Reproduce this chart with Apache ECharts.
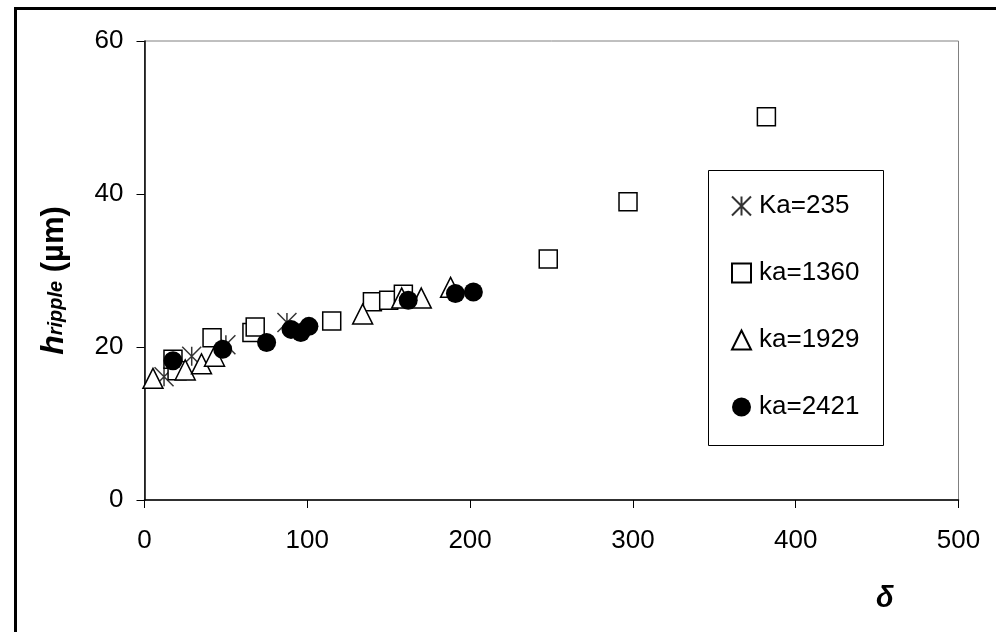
<!DOCTYPE html>
<html>
<head>
<meta charset="utf-8">
<title>h ripple vs delta</title>
<script src="https://cdn.jsdelivr.net/npm/echarts@6/dist/echarts.min.js"></script>
<style>
    html, body { margin: 0; padding: 0; background: #fff; }
    #chart { width: 996px; height: 632px; }
</style>
</head>
<body>
<div id="chart"></div>
<script>
    // series names, as in the legend
    const seriesNames = ['Ka=235', 'ka=1360', 'ka=1929', 'ka=2421'];

    // [delta, h_ripple (um)]
    const ka235 = [[12, 16.1], [29, 18.8], [50, 20.3], [87.5, 23.2]];
    const ka1360 = [[17.5, 18.4], [20, 16.9], [41.5, 21.2], [66, 21.9], [68, 22.6], [115, 23.4],
        [140, 25.9], [150, 26.1], [159, 26.9], [248, 31.5], [297, 39.0], [382, 50.1]];
    const ka1929 = [[5.2, 15.9], [25, 17.0], [35, 17.8], [43, 18.8], [134, 24.3], [158, 26.4],
        [170, 26.4], [188, 27.8]];
    const ka2421 = [[17.5, 18.2], [48, 19.7], [75, 20.6], [90, 22.3], [96, 21.9], [101, 22.7],
        [162, 26.1], [191, 27.0], [202, 27.2]];

    const xTicks = [0, 100, 200, 300, 400, 500];
    const yTicks = [0, 20, 40, 60];

    const font = '"Liberation Sans", Arial, sans-serif';
    const myChart = echarts.init(document.getElementById('chart'), null, { renderer: 'canvas' });

    // asterisk marker: X with a vertical bar
    const star = 'path://M0,0L20,20M20,0L0,20M10,0L10,20';

    let option = {
        backgroundColor: '#fff',
        animation: false,
        textStyle: { fontFamily: font },
        grid: {
            left: 144.5, right: 37.5, top: 41, bottom: 132,
            show: true, borderColor: '#808080', borderWidth: 1
        },
        xAxis: {
            type: 'value',
            min: xTicks[0], max: xTicks[xTicks.length - 1], interval: 100,
            axisLine: { lineStyle: { color: '#000', width: 1.5 } },
            axisTick: { show: true, length: 8, lineStyle: { color: '#000' } },
            axisLabel: { fontSize: 26, color: '#000', margin: 28, fontFamily: font },
            splitLine: { show: false }
        },
        yAxis: {
            type: 'value',
            min: yTicks[0], max: yTicks[yTicks.length - 1], interval: 20,
            axisLine: { show: true, lineStyle: { color: '#000', width: 1.5 } },
            axisTick: { show: true, length: 8, lineStyle: { color: '#000' } },
            axisLabel: { fontSize: 26, color: '#000', margin: 21, fontFamily: font },
            splitLine: { show: false },
            name: '{h|h}{sub|ripple}{u| (µm)}',
            nameLocation: 'middle',
            nameRotate: 90,
            nameGap: 74,
            nameTextStyle: {
                padding: [0, 20, 0, 0],
                rich: {
                    h: { fontSize: 32, fontWeight: 'bold', fontStyle: 'italic', color: '#000', fontFamily: font },
                    sub: { fontSize: 20, fontWeight: 'bold', fontStyle: 'italic', color: '#000', fontFamily: font, padding: [0, 0, -3, 0] },
                    u: { fontSize: 31, fontWeight: 'bold', color: '#000', fontFamily: font }
                }
            }
        },
        legend: {
            orient: 'vertical',
            left: 731, top: 193,
            padding: 0,
            itemWidth: 19, itemHeight: 19,
            itemGap: 41,
            selectedMode: false,
            textStyle: { fontSize: 26, color: '#000', lineHeight: 26, padding: [0, 0, 0, 3], fontFamily: font },
            data: seriesNames
        },
        graphic: [
            // outer chart frame, runs off the right and bottom edges
            { type: 'rect', z: 100, silent: true,
              shape: { x: 15.5, y: 8.5, width: 1000, height: 700 },
              style: { fill: 'none', stroke: '#000', lineWidth: 3 } },
            // legend box
            { type: 'rect', z: -1, silent: true,
              shape: { x: 708.5, y: 170.5, width: 175, height: 275 },
              style: { fill: '#fff', stroke: '#000', lineWidth: 1 } },
            // x axis title
            { type: 'text', left: 876, top: 584, silent: true,
              style: { text: 'δ', fontSize: 29, fontWeight: 'bold', fontStyle: 'italic', fill: '#000', fontFamily: font } }
        ],
        series: [
            {
                name: seriesNames[0], type: 'scatter', data: ka235,
                symbol: star, symbolSize: 19,
                itemStyle: { color: '#000', borderColor: '#000', borderWidth: 1.5 }
            },
            {
                name: seriesNames[1], type: 'scatter', data: ka1360,
                symbol: 'rect', symbolSize: 18,
                itemStyle: { color: '#fff', borderColor: '#000', borderWidth: 1.5, opacity: 1 }
            },
            {
                name: seriesNames[2], type: 'scatter', data: ka1929,
                symbol: 'triangle', symbolSize: 20,
                itemStyle: { color: '#fff', borderColor: '#000', borderWidth: 1.5, opacity: 1 }
            },
            {
                name: seriesNames[3], type: 'scatter', data: ka2421,
                symbol: 'circle', symbolSize: 19,
                itemStyle: { color: '#000', opacity: 1 }
            }
        ]
    };

    myChart.setOption(option);
</script>
</body>
</html>
